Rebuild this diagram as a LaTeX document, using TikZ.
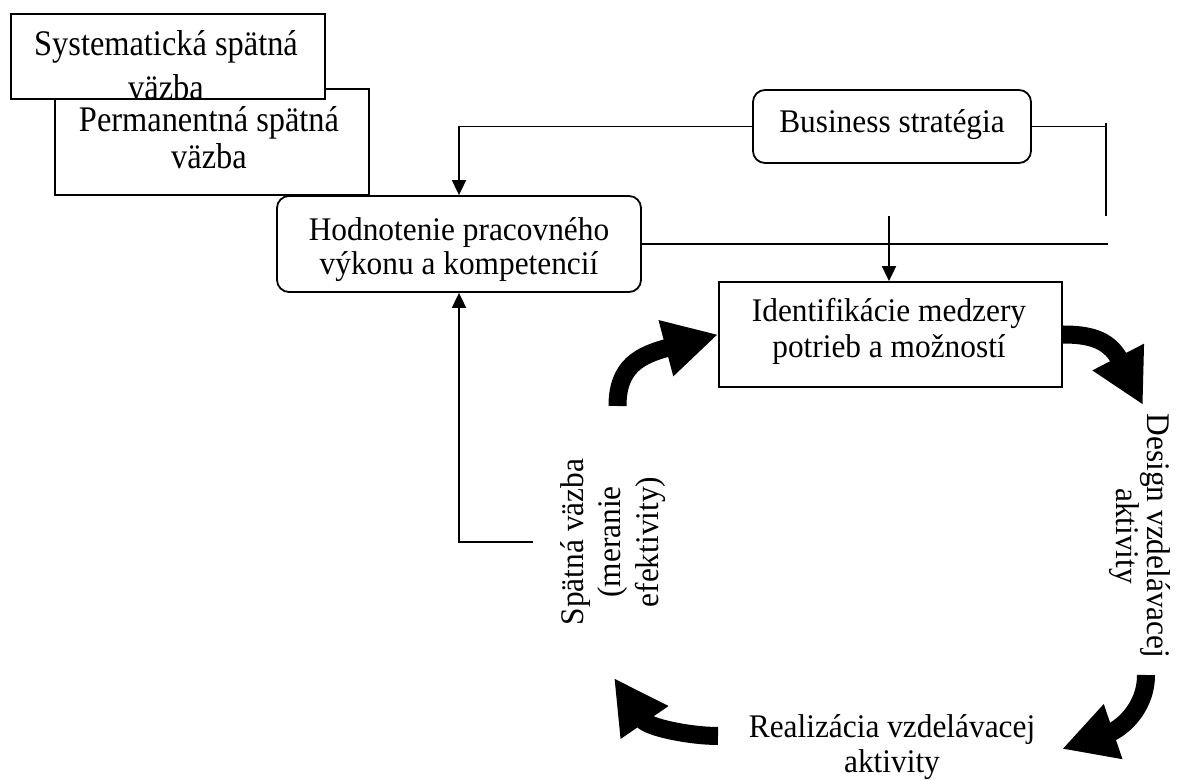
\documentclass[tikz,border=0pt]{standalone}
\usepackage{fontspec}
\setmainfont{Liberation Serif}[FakeStretch=0.95]
\newfontfamily\tallserif{Liberation Serif}[FakeStretch=0.9]
\usetikzlibrary{arrows.meta}

% centred lines of text separated by \cr; optional argument = distance between baselines (pt)
\newcommand\txtlines[2][17.5]{\vtop{\fontsize{16.5}{#1}\selectfont\lineskiplimit=-100pt\lineskip=0pt
  \halign{\hfil##\hfil\cr#2\crcr}}}
% the same, set a little taller (feedback boxes)
\newcommand\talllines[2][18]{\vtop{\tallserif\fontsize{18}{#1}\selectfont\lineskiplimit=-100pt\lineskip=0pt
  \halign{\hfil##\hfil\cr#2\crcr}}}

\tikzset{
  boxline/.style={draw=black, line width=0.9pt},
  sqbox/.style={boxline, fill=white, rectangle, inner sep=0pt},
  rbox/.style={sqbox, rounded corners=6pt},
  lbl/.style={anchor=base, inner sep=0pt, font=\fontsize{16.5}{17.5}\selectfont},
  conn/.style={line width=0.9pt},
  thinarrow/.style={conn, -{Triangle[length=7.5pt,width=7pt]}},
  fatarrow/.style={line width=9pt, -{Triangle[length=27pt,width=27pt]}},
}

\begin{document}
\begin{tikzpicture}[x=0.5pt, y=-0.5pt]
\fill[white] (0,0) rectangle (1179,780);
\useasboundingbox (0,0) rectangle (1179,780);

% ---- feedback boxes (top left), the first one lies over the second
\node[sqbox, minimum width=157pt, minimum height=53pt] (perm) at (212,142) {};
\node[sqbox, minimum width=157pt, minimum height=42.5pt] (syst) at (168,56.5) {};
\node[lbl] (permtxt) at (209,132) {\talllines[18.2]{Permanentná spätná\cr väzba}};
\begin{scope}
  \clip (11,14) rectangle (325,98.5);
  \node[lbl] (systtxt) at (166,56) {\talllines[22]{Systematická spätná\cr väzba}};
\end{scope}

% ---- main boxes
\node[rbox, minimum width=139pt, minimum height=36.5pt] (bs) at (892,126.5) {};
\node[lbl] (bstxt) at (892,133) {Business stratégia};

\node[rbox, minimum width=182pt, minimum height=48pt] (hod) at (459,244) {};
\node[lbl] (hodtxt) at (459,241) {\txtlines[17]{Hodnotenie pracovného\cr výkonu a kompetencií}};

\node[sqbox, minimum width=171.5pt, minimum height=52.5pt] (idf) at (890.5,334.5) {};
\node[lbl] (idftxt) at (889,322) {\txtlines[18]{Identifikácie medzery\cr potrieb a možností}};

% ---- cycle labels
\node[lbl, rotate=-90] (design) at (1147,536) {\txtlines[15.3]{Design vzdelávacej\cr aktivity}};
\node[lbl] (real) at (892,737) {\txtlines[17.5]{Realizácia vzdelávacej\cr aktivity}};
\node[lbl, rotate=90] (fbk) at (583,542) {\txtlines[18.75]{Spätná väzba\cr (meranie\cr efektivity)}};

% ---- thin connectors
\draw[thinarrow] (bs.west) -| (hod.north);

\coordinate (bsR) at (1106,126.5);
\draw[conn] (bs.east) -- (bsR);
\coordinate (vTop) at (1106,123);
\coordinate (vBot) at (1106,216);
\draw[conn] (vTop) -- (vBot);

\coordinate (hodR) at (1108,244);
\draw[conn] (hod.east) -- (hodR);

\coordinate (idIn) at (889,216);
\draw[thinarrow] (idIn) -- (idIn |- idf.north);

\coordinate (fbEnd) at (533,542);
\draw[thinarrow] (fbEnd) -- (fbEnd -| hod.south) -- (hod.south);

% ---- thick curved cycle arrows
\coordinate (a1s) at (617.5,406);
\draw[fatarrow] (a1s) .. controls (617.5,366) and (640,355) .. (idf.west);

\coordinate (a2e) at (1143,405);
\draw[fatarrow] (idf.east) .. controls (1087,334.5) and (1108.5,338.3) .. (a2e);

\coordinate (a3s) at (1146,675);
\coordinate (a3e) at (1062,749);
\draw[fatarrow] (a3s) .. controls (1146,710) and (1118.8,729.7) .. (a3e);

\coordinate (a4s) at (718,736);
\coordinate (a4e) at (614,678);
\draw[fatarrow] (a4s) .. controls (690,736) and (648,727.5) .. (a4e);
\end{tikzpicture}
\end{document}
